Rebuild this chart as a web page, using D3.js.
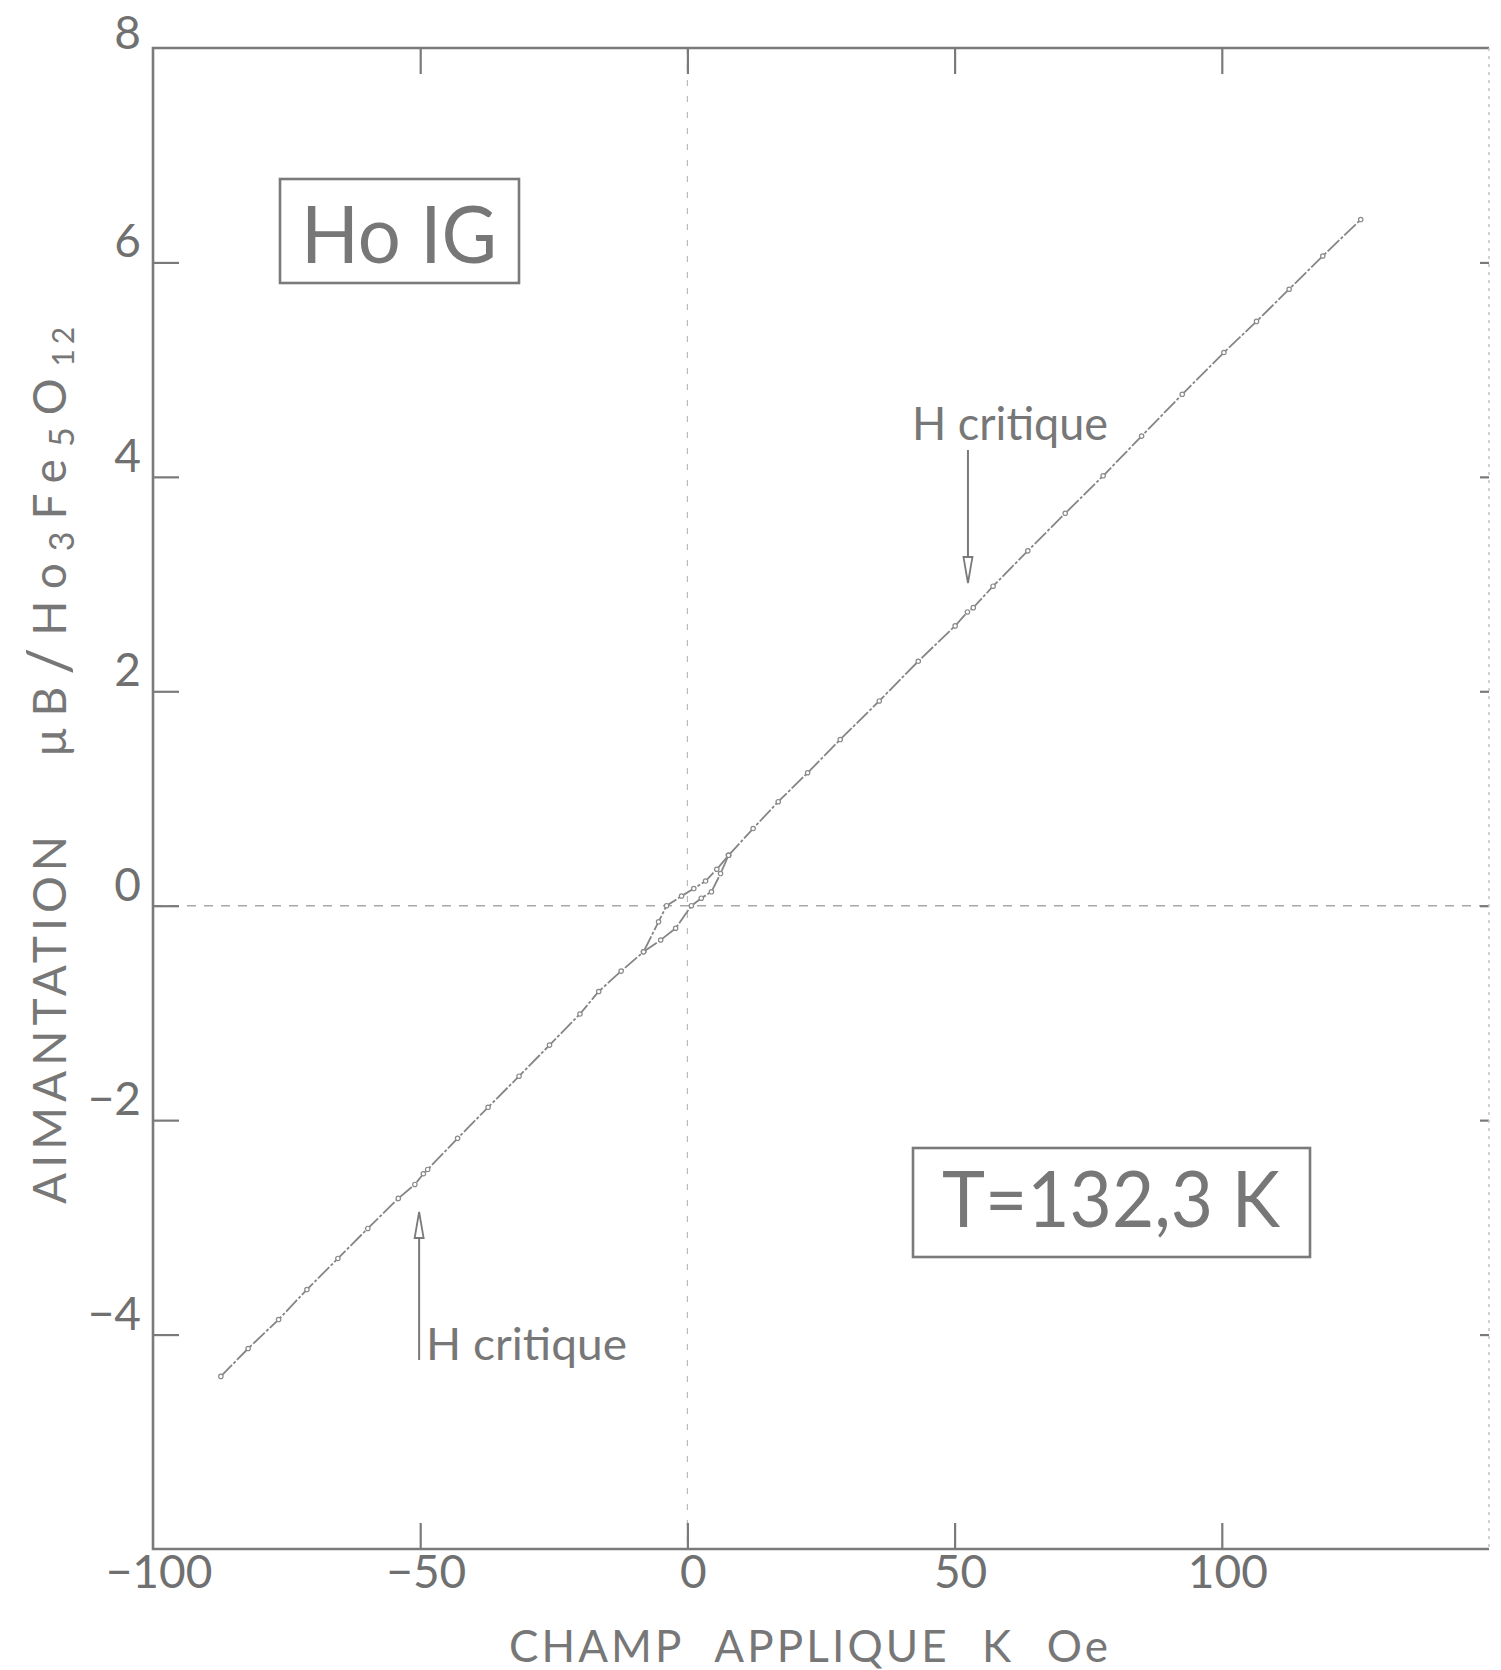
<!DOCTYPE html>
<html lang="fr">
<head>
<meta charset="UTF-8">
<title>HoIG - aimantation</title>
<script src="https://d3js.org/d3.v7.min.js"></script>
<style>
    body { margin: 0; background: #fff; }
    svg { display: block; }
    .lbl { font-family: Lato, "Open Sans", sans-serif; font-weight: 400; fill: #777; }
    .tick line { stroke: #7a7a7a; stroke-width: 2.2; }
    .tick text { font-family: Lato, "Open Sans", sans-serif; font-weight: 400; fill: #707070; font-size: 46px; }
    .domain { display: none; }
</style>
</head>
<body>
<svg id="chart"></svg>
<script>
// champ applique (kOe) / aimantation (uB / Ho3Fe5O12)
const fieldLow = [-87.3, -82.2, -76.5, -71.2, -65.4, -59.8, -54.1, -51.0, -49.4, -48.6, -43.0, -37.3, -31.5, -25.8, -20.1, -16.6, -12.4, -8.2];
const magLow   = [-4.39, -4.13, -3.86, -3.58, -3.29, -3.01, -2.73, -2.60, -2.50, -2.46, -2.17, -1.88, -1.59, -1.30, -1.01, -0.80, -0.61, -0.43];

const loopDownField = [7.7, 5.5, 3.4, 1.2, -1.1, -3.9, -5.4, -8.2];
const loopDownMag   = [0.47, 0.34, 0.23, 0.16, 0.09, 0.00, -0.15, -0.43];
const loopUpField   = [-8.2, -5.0, -2.2, 0.75, 2.6, 4.5, 6.2, 7.7];
const loopUpMag     = [-0.43, -0.32, -0.21, 0.00, 0.07, 0.13, 0.30, 0.47];

const fieldHigh = [7.7, 12.3, 17.0, 22.5, 28.6, 35.9, 43.2, 50.1, 52.4, 53.5, 57.2, 63.7, 70.7, 77.8, 85.0, 92.6, 100.4, 106.5, 112.6, 118.9, 126.0];
const magHigh   = [0.47, 0.72, 0.97, 1.24, 1.55, 1.91, 2.28, 2.61, 2.74, 2.78, 2.98, 3.31, 3.66, 4.01, 4.38, 4.77, 5.16, 5.45, 5.75, 6.06, 6.40];

const xTicks = [-100, -50, 0, 50, 100];
const yTicks = [8, 6, 4, 2, 0, -2, -4];
const criticalFields = [52.5, -50.2];

const W = 1501, H = 1670;
const margin = { top: 48, right: 12, bottom: 121, left: 153 };
const width = W - margin.left - margin.right;
const height = H - margin.top - margin.bottom;

const svg = d3.select("#chart").attr("width", W).attr("height", H);
const g = svg.append("g").attr("transform", `translate(${margin.left},${margin.top})`);

const x = d3.scaleLinear().domain([-100, 150]).range([0, width]);
const y = d3.scaleLinear().domain([-6, 8]).range([height, 0]);

const ink = "#7a7a7a";

// zero lines (tirets)
g.append("line")
    .attr("x1", x(0)).attr("x2", x(0)).attr("y1", 0).attr("y2", height)
    .attr("stroke", "#bcbcbc").attr("stroke-width", 1.2).attr("stroke-dasharray", "6,10");
g.append("line")
    .attr("x1", 0).attr("x2", width).attr("y1", y(0)).attr("y2", y(0))
    .attr("stroke", "#a8a8a8").attr("stroke-width", 1.4).attr("stroke-dasharray", "9,8");

// axes
const yAxis = g.append("g")
    .call(d3.axisLeft(y).tickValues(yTicks).tickSizeInner(-26).tickSizeOuter(0).tickPadding(12));
yAxis.selectAll(".tick text").attr("dy", d => d === 8 ? "0.02em" : "-0.12em")
    .text(d => d < 0 ? "\u2212" + Math.abs(d) : d);
yAxis.selectAll(".tick").filter(d => d === 8).select("line").remove();

const xAxis = g.append("g")
    .attr("transform", `translate(0,${height})`)
    .call(d3.axisBottom(x).tickValues(xTicks).tickSizeInner(-26).tickSizeOuter(0).tickPadding(0));
xAxis.selectAll(".tick text").attr("dy", "0.85em").attr("dx", "0.12em")
    .text(d => d < 0 ? "\u2212" + Math.abs(d) : d);
xAxis.selectAll(".tick").filter(d => d === -100).select("line").remove();

const topAxis = g.append("g")
    .call(d3.axisTop(x).tickValues(xTicks.slice(1)).tickSizeInner(-26).tickSizeOuter(0).tickFormat(""));
const rightAxis = g.append("g")
    .attr("transform", `translate(${width},0)`)
    .call(d3.axisRight(y).tickValues(yTicks.slice(1)).tickSizeInner(-9).tickSizeOuter(0).tickFormat(""));
rightAxis.selectAll(".tick line").attr("stroke", "#cccccc").attr("stroke-width", 1.5);

// cadre
g.append("path")
    .attr("d", `M${width},0H0V${height}H${width}`)
    .attr("fill", "none").attr("stroke", ink).attr("stroke-width", 2.6);
g.append("line")
    .attr("x1", width).attr("x2", width).attr("y1", 0).attr("y2", height)
    .attr("stroke", "#c4c4c4").attr("stroke-width", 1.5).attr("stroke-dasharray", "3,5");

// courbe
const line = d3.line().x(d => x(d[0])).y(d => y(d[1]));
const series = [
    d3.zip(fieldLow, magLow),
    d3.zip(loopDownField, loopDownMag),
    d3.zip(loopUpField, loopUpMag),
    d3.zip(fieldHigh, magHigh)
];
g.selectAll(".trace")
    .data(series)
    .join("path")
    .attr("class", "trace")
    .attr("d", line)
    .attr("fill", "none")
    .attr("stroke", "#858585")
    .attr("stroke-width", 1.8)
    .attr("stroke-dasharray", "16,2,3,2");
g.selectAll(".pt")
    .data(series.flat())
    .join("circle")
    .attr("class", "pt")
    .attr("cx", d => x(d[0]))
    .attr("cy", d => y(d[1]))
    .attr("r", 2.2)
    .attr("fill", "#fff")
    .attr("stroke", "#8a8a8a")
    .attr("stroke-width", 1.2);

// cartouches
function boxLabel(x0, y0, w, h, txt, fs, tx, tl, base) {
    svg.append("rect")
        .attr("x", x0).attr("y", y0).attr("width", w).attr("height", h)
        .attr("fill", "none").attr("stroke", ink).attr("stroke-width", 2.6);
    svg.append("text").attr("class", "lbl")
        .attr("x", tx).attr("y", base)
        .attr("font-size", fs)
        .attr("textLength", tl).attr("lengthAdjust", "spacingAndGlyphs")
        .text(txt);
}
boxLabel(280, 179, 239, 104, "Ho IG", 80, 301, 196, 263);
boxLabel(913, 1148, 397, 109, "T=132,3 K", 78, 942, 338, 1227);

// fleches H critique
const arrowY = [[450, 583], [1360, 1212]];
criticalFields.forEach((f, i) => {
    const xa = margin.left + x(f);
    const [y1, y2] = arrowY[i];
    const dir = Math.sign(y2 - y1);
    svg.append("line")
        .attr("x1", xa).attr("x2", xa).attr("y1", y1).attr("y2", y2 - dir * 20)
        .attr("stroke", ink).attr("stroke-width", 2);
    svg.append("path")
        .attr("d", `M${xa},${y2}L${xa - 4.5},${y2 - dir * 26}L${xa + 4.5},${y2 - dir * 26}Z`)
        .attr("fill", "#fff").attr("stroke", ink).attr("stroke-width", 1.8);
});
svg.append("text").attr("class", "lbl")
    .attr("x", 912).attr("y", 440).attr("font-size", 46)
    .attr("textLength", 196).attr("lengthAdjust", "spacingAndGlyphs")
    .text("H critique");
svg.append("text").attr("class", "lbl")
    .attr("x", 426).attr("y", 1360).attr("font-size", 44)
    .attr("textLength", 201).attr("lengthAdjust", "spacingAndGlyphs")
    .text("H critique");

// titres des axes
svg.append("text").attr("class", "lbl")
    .attr("x", 509).attr("y", 1662).attr("font-size", 44)
    .attr("textLength", 599).attr("lengthAdjust", "spacing")
    .attr("word-spacing", 18)
    .text("CHAMP APPLIQUE K Oe");

svg.append("text").attr("class", "lbl")
    .attr("transform", "translate(66,1204) rotate(-90)")
    .attr("font-size", 46)
    .attr("textLength", 368).attr("lengthAdjust", "spacing")
    .text("AIMANTATION");

const unit = svg.append("text").attr("class", "lbl")
    .attr("transform", "translate(66,756) rotate(-90)")
    .attr("font-size", 46)
    .attr("letter-spacing", 12);
unit.append("tspan").text("\u03bcB");
unit.append("tspan").attr("font-size", 60).attr("dy", 4).text("/");
unit.append("tspan").attr("dy", -4).text("Ho");
unit.append("tspan").attr("dy", 8).attr("font-size", 34).text("3");
unit.append("tspan").attr("dy", -8).text("Fe");
unit.append("tspan").attr("dy", 8).attr("font-size", 34).text("5");
unit.append("tspan").attr("dy", -8).text("O");
unit.append("tspan").attr("dy", 8).attr("font-size", 30).attr("letter-spacing", 5).text("12");
</script>
</body>
</html>
